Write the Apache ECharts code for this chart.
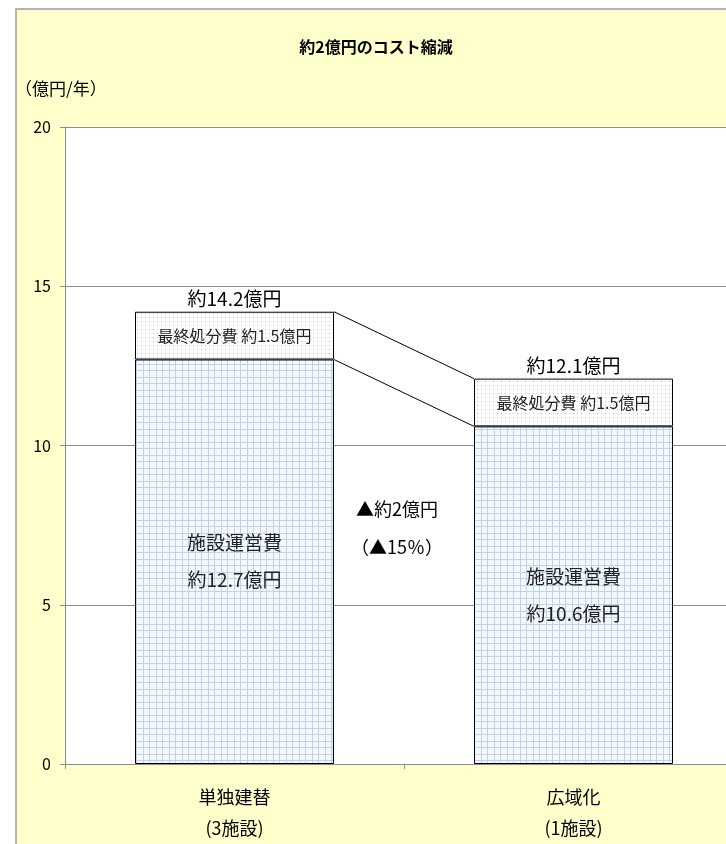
<!DOCTYPE html>
<html><head><meta charset="utf-8">
<script src="https://cdn.jsdelivr.net/npm/echarts@6/dist/echarts.min.js"></script>
<style>
html,body{margin:0;padding:0;background:#fff;overflow:hidden;}
#box{position:absolute;left:15px;top:8px;width:800px;height:900px;background:#FFFFCC;border:2px solid #b4b4b4;box-sizing:border-box;}
#chart{position:absolute;left:0;top:0;width:726px;height:844px;}
</style></head>
<body>
<div id="box"></div>
<div id="chart"></div>
<script>
const categories = ['単独建替\n(3施設)', '広域化\n(1施設)'];
const operatingCost = [12.7, 10.6];
const disposalCost = [1.5, 1.5];
const totals = [14.2, 12.1];
const yTicks = [0, 5, 10, 15, 20];
const totalLabels = ['約14.2億円', '約12.1億円'];
const reductionText = ['▲約2億円', '（▲15％）'];

const FONT = '"Noto Sans CJK JP", "Noto Sans", sans-serif';
const BAR_RATIO = 0.587;

function gridPattern() {
  const c = document.createElement('canvas');
  c.width = 13; c.height = 13;
  const g = c.getContext('2d');
  g.fillStyle = '#f4f9ff'; g.fillRect(0, 0, 13, 13);
  g.fillStyle = '#c3d2e8';
  g.fillRect(0, 0, 13, 1); g.fillRect(0, 6, 13, 1);
  g.fillRect(0, 0, 1, 13); g.fillRect(6, 0, 1, 13);
  return c;
}
function dotPattern() {
  const c = document.createElement('canvas');
  c.width = 8; c.height = 8;
  const g = c.getContext('2d');
  g.fillStyle = '#ffffff'; g.fillRect(0, 0, 8, 8);
  g.fillStyle = '#b3bfd0'; g.fillRect(1, 1, 1, 1);
  g.fillStyle = '#8fb8de'; g.fillRect(5, 5, 1, 1);
  g.fillStyle = '#d2c09f'; g.fillRect(5, 1, 1, 1);
  g.fillStyle = '#b6cde0'; g.fillRect(1, 5, 1, 1);
  return c;
}

const chart = echarts.init(document.getElementById('chart'), null, {renderer: 'canvas'});
chart.setOption({
  backgroundColor: 'transparent',
  animation: false,
  title: {
    text: '約2億円のコスト縮減', left: 371, top: 34, textAlign: 'center',
    textStyle: {fontFamily: FONT, fontSize: 16, fontWeight: 'bold', color: '#000'}
  },
  grid: {left: 65, top: 127, width: 678, height: 637, show: true, backgroundColor: '#ffffff', borderWidth: 0,
    containLabel: false, outerBoundsMode: 'none'},
  xAxis: {
    type: 'category', data: categories,
    axisLine: {lineStyle: {color: '#8c8c8c', width: 1}},
    axisTick: {show: true, length: 5, lineStyle: {color: '#8c8c8c'}},
    axisLabel: {fontFamily: FONT, fontSize: 18, color: '#000', lineHeight: 31, margin: 18}
  },
  yAxis: {
    type: 'value', min: yTicks[0], max: yTicks[yTicks.length - 1], interval: 5,
    name: '（億円/年）', nameLocation: 'end', nameGap: 30,
    nameTextStyle: {fontFamily: FONT, fontSize: 17, color: '#000', align: 'left', padding: [0, 0, 0, -50]},
    axisLine: {show: true, lineStyle: {color: '#8c8c8c'}},
    axisTick: {show: true, length: 5, lineStyle: {color: '#8c8c8c'}},
    axisLabel: {fontFamily: FONT, fontSize: 16, color: '#000', margin: 14},
    splitLine: {lineStyle: {color: '#8c8c8c', width: 1}}
  },
  series: [
    {
      type: 'bar', stack: 'cost', barWidth: (BAR_RATIO * 100) + '%', data: operatingCost,
      itemStyle: {color: {image: gridPattern(), repeat: 'repeat'}, borderColor: '#000', borderWidth: 1},
      label: {
        show: true, position: 'inside', fontFamily: FONT, fontSize: 19, color: '#222', lineHeight: 37,
        formatter: p => '施設運営費\n約' + p.value + '億円'
      }
    },
    {
      type: 'bar', stack: 'cost', barWidth: (BAR_RATIO * 100) + '%', data: disposalCost,
      itemStyle: {color: {image: dotPattern(), repeat: 'repeat'}, borderColor: '#000', borderWidth: 1},
      label: {
        show: true, position: 'inside', fontFamily: FONT, fontSize: 16, color: '#222',
        formatter: p => '最終処分費 約' + p.value + '億円'
      }
    },
    {
      type: 'custom', data: totals.map((t, i) => [i, t]), z: 5,
      renderItem: (params, api) => {
        const i = api.value(0);
        const p = api.coord([i, api.value(1)]);
        return {
          type: 'text', x: p[0], y: p[1] - 3,
          style: {text: totalLabels[i], fill: '#000', font: '19px ' + FONT, textAlign: 'center', textVerticalAlign: 'bottom'}
        };
      }
    },
    {
      type: 'custom', data: [[0, 1]], z: 5,
      renderItem: (params, api) => {
        const a = api.value(0), b = api.value(1);
        const w = api.size([1, 0])[0] * BAR_RATIO;
        const pTopA = api.coord([a, totals[a]]), pTopB = api.coord([b, totals[b]]);
        const pMidA = api.coord([a, operatingCost[a]]), pMidB = api.coord([b, operatingCost[b]]);
        const ls = {stroke: '#000', lineWidth: 1};
        const cx = (pMidA[0] + pMidB[0]) / 2 - 7;
        return {
          type: 'group', children: [
            {type: 'line', shape: {x1: pTopA[0] + w / 2, y1: pTopA[1], x2: pTopB[0] - w / 2, y2: pTopB[1]}, style: ls},
            {type: 'line', shape: {x1: pMidA[0] + w / 2, y1: pMidA[1], x2: pMidB[0] - w / 2, y2: pMidB[1]}, style: ls},
            {type: 'text', x: cx, y: api.coord([0, 8.0])[1],
              style: {text: reductionText[0], fill: '#000', font: '18px ' + FONT, textAlign: 'center', textVerticalAlign: 'middle'}},
            {type: 'text', x: cx, y: api.coord([0, 6.8])[1],
              style: {text: reductionText[1], fill: '#000', font: '18px ' + FONT, textAlign: 'center', textVerticalAlign: 'middle'}}
          ]
        };
      }
    }
  ]
});
</script>
</body></html>
